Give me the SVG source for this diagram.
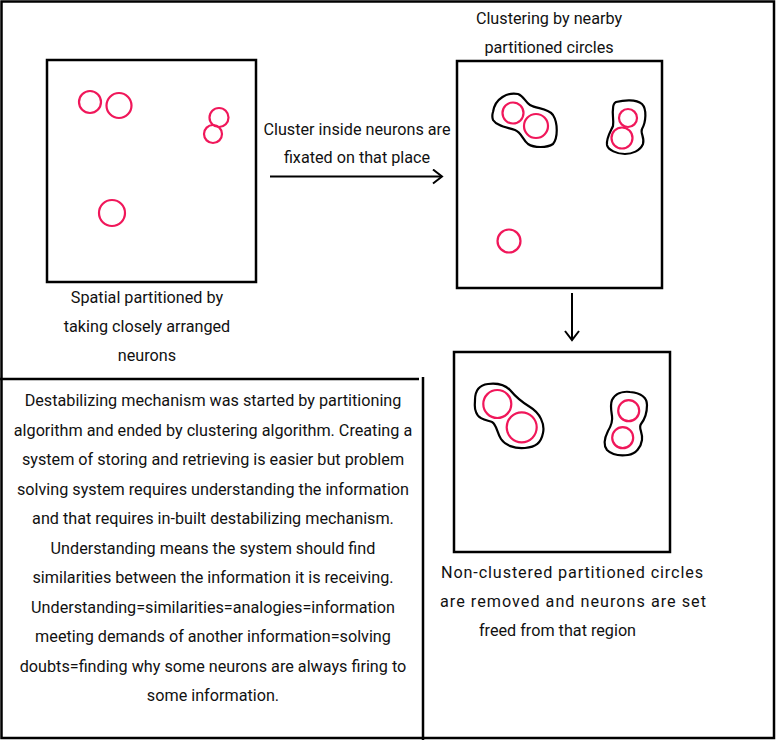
<svg xmlns="http://www.w3.org/2000/svg" width="776" height="740" viewBox="0 0 776 740">
<style>
text{font-family:Roboto,"Liberation Sans",sans-serif;font-size:16.2px;fill:#111;text-anchor:middle}
.box{fill:none;stroke:#000;stroke-width:2.5}
.c{fill:none;stroke:#f0175a;stroke-width:2.2}
.blob{fill:none;stroke:#000;stroke-width:2.2;stroke-linejoin:round}
.ln{fill:none;stroke:#000;stroke-width:2.5}
</style>
<defs>
<marker id="v" viewBox="0 0 12 16" refX="10" refY="8" markerWidth="12" markerHeight="16" markerUnits="userSpaceOnUse" orient="auto">
<path d="M1,1 L10,8 L1,15" fill="none" stroke="#000" stroke-width="2"/>
</marker>
</defs>
<rect x="0" y="0" width="776" height="740" fill="#fff"/>
<rect x="1.5" y="1.5" width="772.5" height="736.5" class="box" stroke-width="3"/>
<g id="frame">
<line x1="0" y1="379" x2="419" y2="379" class="ln"/>
<line x1="423" y1="377" x2="423" y2="740" class="ln"/>
</g>
<g id="box1">
<rect x="47" y="60" width="209" height="222" class="box"/>
<circle cx="90" cy="102" r="11" class="c"/>
<circle cx="119" cy="105.5" r="12.5" class="c"/>
<circle cx="219" cy="117.5" r="9.5" class="c"/>
<circle cx="213" cy="134" r="9" class="c"/>
<circle cx="112" cy="213" r="13" class="c"/>
<text x="147" y="303">Spatial partitioned by</text>
<text x="147" y="332">taking closely arranged</text>
<text x="147" y="361">neurons</text>
</g>
<g id="box2">
<rect x="457" y="61" width="205" height="227" class="box"/>
<circle cx="513" cy="113" r="10.5" class="c"/>
<circle cx="536" cy="126" r="12" class="c"/>
<circle cx="628" cy="118" r="9" class="c"/>
<circle cx="622" cy="138" r="10.5" class="c"/>
<circle cx="509" cy="241" r="11.5" class="c"/>
<path class="blob" d="M493,112 C495,98 508,92 518,94 C524,96 525,102 530,105 C537,109 548,108 553,115 C558,123 558,138 553,144 C547,148 534,148 528,144 C522,139 522,133 515,130 C506,127 497,126 493,120 C492,117 492,115 493,112 Z"/>
<path class="blob" d="M616,102 C624,100 636,99 642,104 C647,109 646,122 642,129 C640,133 645,138 643,144 C640,151 632,154 625,154 C617,154 608,150 607,145 C606,138 611,131 613,126 C614,120 612,114 613,109 C613,105 614,103 616,102 Z"/>
<text x="549" y="24">Clustering by nearby</text>
<text x="549" y="53">partitioned circles</text>
</g>
<g id="box3">
<rect x="454" y="352" width="216" height="200" class="box"/>
<circle cx="497.3" cy="404" r="14" class="c"/>
<circle cx="521.7" cy="427.3" r="15" class="c"/>
<circle cx="628.7" cy="410.7" r="10.5" class="c"/>
<circle cx="622.7" cy="437.7" r="10.5" class="c"/>
<path class="blob" d="M475,400 C475,391 479,385 488,384 C496,383 504,384 510,390 C515,396 520,401 530,407 C540,413 545,424 543,433 C541,443 536,447 525,448 C514,449 505,445 501,439 C497,433 497,425 492,422 C486,420 478,419 476,412 C474,408 475,404 475,400 Z"/>
<path class="blob" d="M612,400 C615,394 622,391 630,392 C640,393 647,397 647,405 C647,413 645,419 641,424 C638,428 643,432 642,440 C641,447 636,454 628,455 C620,456 612,455 607,450 C603,445 605,437 608,431 C611,426 613,422 612,416 C611,410 610,405 612,400 Z"/>
<text x="572" y="578" textLength="262" lengthAdjust="spacing">Non-clustered partitioned circles</text>
<text x="573" y="607" textLength="266" lengthAdjust="spacing">are removed and neurons are set</text>
<text x="557.5" y="636">freed from that region</text>
</g>
<g id="connectors">
<line x1="270" y1="176.5" x2="442" y2="176.5" stroke="#000" stroke-width="2" marker-end="url(#v)"/>
<line x1="572" y1="293" x2="572" y2="340" stroke="#000" stroke-width="2" marker-end="url(#v)"/>
</g>
<g id="label-arrow">
<text x="357" y="135">Cluster inside neurons are</text>
<text x="357" y="163">fixated on that place</text>
</g>
<g id="paragraph">
<text x="213" y="406">Destabilizing mechanism was started by partitioning</text>
<text x="213" y="436">algorithm and ended by clustering algorithm. Creating a</text>
<text x="213" y="465">system of storing and retrieving is easier but problem</text>
<text x="213" y="495">solving system requires understanding the information</text>
<text x="213" y="524">and that requires in-built destabilizing mechanism.</text>
<text x="213" y="554">Understanding means the system should find</text>
<text x="213" y="583">similarities between the information it is receiving.</text>
<text x="213" y="613">Understanding=similarities=analogies=information</text>
<text x="213" y="642">meeting demands of another information=solving</text>
<text x="213" y="672">doubts=finding why some neurons are always firing to</text>
<text x="213" y="701">some information.</text>
</g>
</svg>
